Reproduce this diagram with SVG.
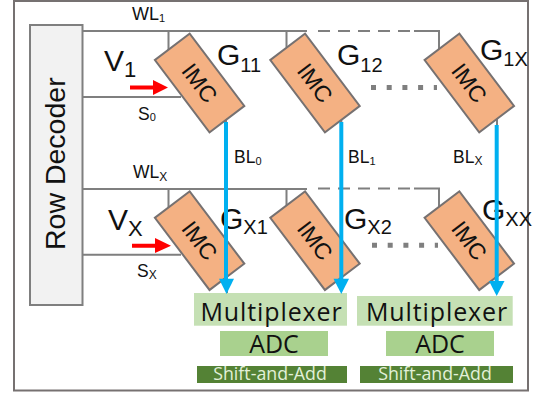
<svg xmlns="http://www.w3.org/2000/svg" width="542" height="397" viewBox="0 0 542 397">
<style>
text{font-family:"Liberation Sans",Arial,sans-serif;fill:#111}
.w{fill:none;stroke:#7f7f7f;stroke-width:2}
.d{stroke-dasharray:12 8}
.imc{fill:#f4b183;stroke:#767171;stroke-width:2}
.it{font-size:23px;text-anchor:middle}
.g{font-size:30px}
.l{font-size:17.5px}
.mux{fill:#c5e0b4}.adc{fill:#a9d18e}.sh{fill:#548235}
.c{font-family:"Open Sans","Noto Sans",sans-serif;text-anchor:middle}
.bl{stroke:#00b0f0;stroke-width:4;fill:none}
</style>
<defs>
<g id="imc"><rect class="imc" x="-45.3" y="-21.8" width="90.6" height="43.6"/><text class="it" y="8">IMC</text></g>
</defs>
<rect x="14" y="1" width="514" height="389.5" fill="#fff" stroke="#767171" stroke-width="2"/>
<g id="row-decoder"><rect x="30" y="25" width="52.5" height="280" fill="#f2f2f2" stroke="#7f7f7f" stroke-width="2"/>
<text transform="translate(65,250) rotate(-90)" font-size="28.500">Row Decoder</text></g>
<g id="connectors">
<path class="w" d="M83 31H307M414 31H439V50M168.500 31V50M286.500 31V47M83 97H181"/>
<path class="w d" d="M318 31H414"/>
<path class="w" d="M83 189H307M414 188.500H439V207M168.500 189V207M286.500 189V205M83 254.700H181"/>
<path class="w d" d="M318 188.500H414"/>
<path class="w" d="M226 117V123M341.300 117V123M497 117V126M227 290V296"/>
<path fill="none" stroke="#7f7f7f" stroke-width="5" stroke-dasharray="5 10.700" d="M371 87.500H437M372 245.300H438"/>
<path d="M130 85.500H153V80L168 87.500L153 95V89.500H130Z" fill="#f00"/>
<path d="M132 243.700H155V238L171 245.700L155 253V247.700H132Z" fill="#f00"/>
</g>
<g id="g11"><use href="#imc" transform="translate(199.600,83) rotate(52.900)"/></g>
<g id="g12"><use href="#imc" transform="translate(315,83) rotate(52.900)"/></g>
<g id="g1x"><use href="#imc" transform="translate(469.300,83) rotate(52.900)"/></g>
<g id="gx1"><use href="#imc" transform="translate(199.600,240.700) rotate(52.900)"/></g>
<g id="gx2"><use href="#imc" transform="translate(315,240.700) rotate(52.900)"/></g>
<g id="gxx"><use href="#imc" transform="translate(469.300,240.700) rotate(52.900)"/></g>
<g id="mux1"><rect class="mux" x="194" y="293" width="153" height="32.700"/><text class="c" x="271.500" y="321" font-size="25" letter-spacing="0.900">Multiplexer</text></g>
<g id="mux2"><rect class="mux" x="357" y="296" width="155.700" height="29.700"/><text class="c" x="437" y="321" font-size="25" letter-spacing="0.900">Multiplexer</text></g>
<g id="adc1"><rect class="adc" x="220" y="331" width="108" height="25"/><text class="c" x="274" y="352.700" font-size="25">ADC</text></g>
<g id="adc2"><rect class="adc" x="386" y="331" width="108" height="25"/><text class="c" x="440" y="352.700" font-size="25">ADC</text></g>
<g id="shift1"><rect class="sh" x="197" y="366" width="150" height="17"/><text class="c" x="270" y="380" font-size="17.800" style="fill:#e2f0d9">Shift-and-Add</text></g>
<g id="shift2"><rect class="sh" x="360" y="366" width="153" height="17"/><text class="c" x="435" y="380" font-size="17.800" style="fill:#e2f0d9">Shift-and-Add</text></g>
<g id="labels">
<text class="l" x="132" y="20" style="font-size:18px">WL<tspan dy="2" font-size="11">1</tspan></text>
<text class="l" x="133" y="178">WL<tspan dy="3" font-size="12">X</tspan></text>
<text x="104" y="71" font-size="30">V<tspan dy="6" font-size="22">1</tspan></text>
<text x="108" y="230" font-size="30">V<tspan dy="6" font-size="22">X</tspan></text>
<text class="l" x="138" y="120">S<tspan dy="1" font-size="11">0</tspan></text>
<text class="l" x="137" y="277">S<tspan dy="2" font-size="12">X</tspan></text>
<text class="g" x="217" y="65">G<tspan dy="7" font-size="20">11</tspan></text>
<text class="g" x="337" y="65">G<tspan dy="7" font-size="20">12</tspan></text>
<text class="g" x="480" y="59.500">G<tspan dy="6" font-size="20">1X</tspan></text>
<text class="g" x="220" y="229">G<tspan dy="5" font-size="20">X1</tspan></text>
<text class="g" x="344" y="229">G<tspan dy="5" font-size="20">X2</tspan></text>
<text class="g" x="482" y="220">G<tspan dy="6" font-size="20">XX</tspan></text>
<text class="l" x="234" y="163">BL<tspan dy="2" font-size="11">0</tspan></text>
<text class="l" x="348" y="163">BL<tspan dy="2" font-size="11">1</tspan></text>
<text class="l" x="453" y="163">BL<tspan dy="2" font-size="12">X</tspan></text>
</g>
<g id="bitlines">
<path d="M226 122V280" class="bl"/><path d="M219 278.700H234L226.500 294Z" fill="#00b0f0"/>
<path d="M341.300 122V280" class="bl"/><path d="M333.500 278.700H349L341.300 294Z" fill="#00b0f0"/>
<path d="M496.700 125V283" class="bl"/><path d="M489 281H504.500L496.700 296Z" fill="#00b0f0"/>
</g>
</svg>
